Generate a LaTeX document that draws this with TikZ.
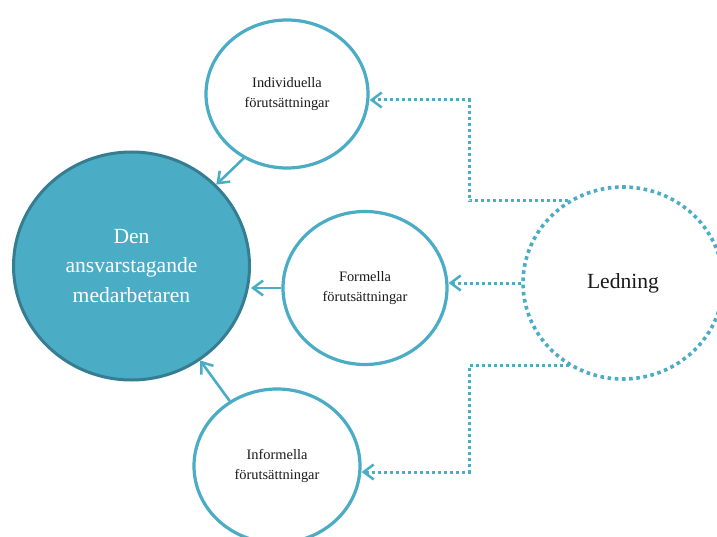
\documentclass[tikz,border=0pt]{standalone}
\usepackage{fontspec}
\setmainfont{Liberation Serif}
\usetikzlibrary{shapes.geometric,arrows.meta}
\definecolor{aqua}{HTML}{4BACC6}
\definecolor{aquadark}{HTML}{357D91}
\definecolor{txt}{HTML}{1A1A1A}
\tikzset{
  ring/.style={ellipse, draw=aqua, line width=3.2pt, fill=white, inner sep=0pt,
    align=center, text=txt, font=\fontsize{14.4}{20}\selectfont},
  core/.style={ellipse, draw=aquadark, line width=3pt, fill=aqua, inner sep=0pt,
    align=center, text=white, font=\fontsize{21.6}{29.5}\selectfont},
  lead/.style={ellipse, draw=aqua, line width=3.6pt, dash pattern=on 3.6pt off 3.6pt,
    fill=white, inner sep=0pt, align=center, text=txt, font=\fontsize{21.6}{29.5}\selectfont},
  tip/.style={-{Straight Barb[length=10pt,width=15pt,line width=2.5pt]}},
  solidlink/.style={tip, draw=aqua, line width=2.6pt},
  dotlink/.style={tip, draw=aqua, line width=3pt, dash pattern=on 3pt off 3pt}
}
\begin{document}
\begin{tikzpicture}[x=1pt, y=-1pt]
\useasboundingbox (0,0) rectangle (717,537);
\clip (0,0) rectangle (717,537);
\fill[white] (0,0) rectangle (717,537);

% circles
\node[core, minimum width=236pt, minimum height=228pt] (den) at (131.5,266) {Den\\ansvarstagande\\medarbetaren};
\node[ring, minimum width=162pt, minimum height=148pt] (ind) at (287,94) {Individuella\\förutsättningar};
\node[ring, minimum width=164pt, minimum height=153pt] (form) at (365,288) {Formella\\förutsättningar};
\node[ring, minimum width=166pt, minimum height=154pt] (inf) at (277,466) {Informella\\förutsättningar};
\node[lead, minimum width=200pt, minimum height=192pt] (led) at (623,283) {Ledning};

% solid arrows into the centre
\draw[solidlink] (ind.236) -- (den);
\draw[solidlink] (form.west) -- (form.west -| den.east);
\draw[solidlink] (inf) -- (den);

% dotted arrows from Ledning
\coordinate (b1) at (469,199);
\coordinate (b2) at (469,100);
\coordinate (b3) at (469,365);
\coordinate (b4) at (469,472);
\draw[dotlink] (led.124) -- (led.124 -| b1) -- (b2) -- (b2 -| ind.east);
\draw[dotlink] (led.west) -- (led.west -| form.east);
\draw[dotlink] (led.237) -- (led.237 -| b3) -- (b4) -- (b4 -| inf.east);
\end{tikzpicture}
\end{document}
